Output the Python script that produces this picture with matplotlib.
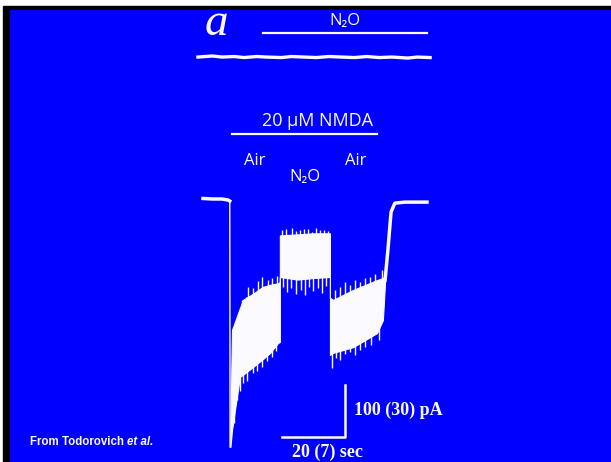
import matplotlib.pyplot as plt
import numpy as np
from matplotlib.patches import Rectangle

W, H = 611, 462
BLUE = '#0000fe'
FG = '#fbfbff'

# --- data (time in s, current in pA) ---
# holding current before NMDA
base_t = [0.0, 3.0, 6.0, 8.0, 8.5, 8.6]
base_i = [1, 0, 0, -2, -4, -477]

# envelope of the noisy NMDA current (Air / N2O / Air)
env_t = [8.7, 9.2, 11.7, 12.7, 15.9, 19.0, 21.3, 23.8, 24.4,
         24.4, 30.0, 35.0, 40.3,
         40.3, 41.3, 47.6, 55.2, 57.1, 57.8]
env_hi = [-440, -252, -210, -194, -182, -169, -165, -162, -160,
          -70, -68, -66, -66,
          -190, -194, -175, -156, -152, -150]
env_lo = [-477, -445, -342, -338, -323, -308, -296, -277, -275,
          -150, -155, -152, -150,
          -300, -296, -285, -258, -233, -160]

# spike tips sticking out of the envelope
up_t = [11.0, 12.4, 13.6, 14.3, 16.0, 17.5, 18.7, 20.6, 22.0, 23.5,
        25.2, 26.4, 28.3, 29.6, 30.8, 32.0, 33.3, 34.6, 35.9, 37.1, 38.4, 39.6,
        41.9, 43.5, 45.1, 46.6, 48.3, 49.8, 51.4, 53.0, 54.6, 56.8]
up_i = [-222, -194, -188, -170, -172, -158, -150, -156, -152, -148,
        -60, -58, -56, -62, -60, -57, -57, -63, -56, -60, -59, -62,
        -175, -170, -160, -166, -156, -160, -152, -150, -144, -137]
dn_t = [9.5, 10.0, 10.8, 11.9, 12.7, 14.1, 15.9, 17.2, 18.7, 20.3, 21.9, 23.2,
        25.5, 26.7, 28.0, 29.5, 31.0, 32.4, 33.8, 34.9, 36.4, 37.8, 39.2,
        41.0, 42.2, 43.5, 45.0, 46.7, 48.2, 49.8, 51.5, 53.3, 55.9]
dn_i = [-412, -430, -387, -370, -354, -350, -335, -330, -323, -312, -304, -292,
        -170, -178, -172, -182, -175, -185, -170, -176, -172, -180, -168,
        -325, -305, -310, -298, -294, -300, -290, -285, -281, -271]

# washout back to baseline
wash_t = [57.8, 58.7, 59.7, 60.9, 64.1, 71.1]
wash_i = [-156, -98, -25, -8, -6, -6]

# upper trace: N2O alone (offset above)
top_t = [-1.6, 3, 6, 10, 13, 17, 20, 25, 28, 32, 36, 40, 44, 48, 52, 56, 60, 65, 68, 72.1]
top_i = [273, 275, 273, 274, 272, 274, 273, 272, 274, 273, 272, 274, 273, 272, 274, 272, 273, 271, 273, 272]

# application bars (start, end, level)
n2o_bar = (19.0, 71.1, 319)
nmda_bar = (9.2, 55.2, 125)

# scale bars
scale_t, scale_i = 20, 100
scale_corner = (45.1, -457.7)

fig = plt.figure(figsize=(W / 100, H / 100), dpi=100)
fig.patch.set_facecolor('white')
# frame: black border then blue slide
fig.patches.append(Rectangle((3 / W, 0), 1, 1 - 6 / H, transform=fig.transFigure,
                             color='black', zorder=-2))
fig.patches.append(Rectangle((10 / W, 0), 1, 1 - 10 / H, transform=fig.transFigure,
                             color=BLUE, zorder=-1))

ax = fig.add_axes([0, 0, 1, 1])
ax.patch.set_visible(False)
ax.set_xlim(-64.44, 129.52)
ax.set_ylim(-505.8, 382.7)
ax.axis('off')

ax.plot(base_t[:-1], base_i[:-1], color=FG, lw=2.5)
ax.plot(base_t[-2:], base_i[-2:], color=FG, lw=1)
ax.fill_between(env_t, env_lo, env_hi, color=FG, lw=0.8)
ax.vlines(up_t, np.array(up_i) - 40, up_i, color=FG, lw=1.0)
ax.vlines(dn_t, dn_i, np.array(dn_i) + 40, color=FG, lw=1.0)
ax.plot(wash_t, wash_i, color=FG, lw=2.5)
ax.plot(top_t, top_i, color=FG, lw=2.4)

for t0, t1, lev in (n2o_bar, nmda_bar):
    ax.plot([t0, t1], [lev, lev], color=FG, lw=1.6)

cx, cy = scale_corner
ax.plot([cx - scale_t, cx, cx], [cy, cy, cy + scale_i], color=FG, lw=1.8)


def px(x, y):
    return x / W, 1 - y / H


sans = ['Open Sans', 'DejaVu Sans']
serif = ['Liberation Serif', 'DejaVu Serif']
fig.text(*px(216, 35), 'a', color=FG, fontsize=34, family=serif, style='italic',
         ha='center', va='baseline')
fig.text(*px(345, 21), 'N₂O', color=FG, fontsize=12, family=sans, ha='center', va='center')
fig.text(*px(318, 121), '20 µM NMDA', color=FG, fontsize=13, family=sans,
         ha='center', va='center')
fig.text(*px(255, 161), 'Air', color=FG, fontsize=12, family=sans, ha='center', va='center')
fig.text(*px(356, 161), 'Air', color=FG, fontsize=12, family=sans, ha='center', va='center')
fig.text(*px(305, 177), 'N₂O', color=FG, fontsize=12, family=sans, ha='center', va='center')
fig.text(*px(354, 410), '100 (30) pA', color=FG, fontsize=13, family=serif,
         weight='bold', ha='left', va='center')
fig.text(*px(327, 452), '20 (7) sec', color=FG, fontsize=13, family=serif,
         weight='bold', ha='center', va='center')
src = fig.text(*px(30, 445), 'From Todorovich ', color=FG, fontsize=8.3,
               family='Liberation Sans', weight='bold', ha='left', va='baseline')
ax.annotate('et al.', xy=(1, 0), xycoords=src, color=FG, fontsize=8.3,
            family='Liberation Sans', weight='bold', style='italic',
            ha='left', va='bottom')

fig.savefig('out.png', dpi=100, facecolor=fig.get_facecolor())
